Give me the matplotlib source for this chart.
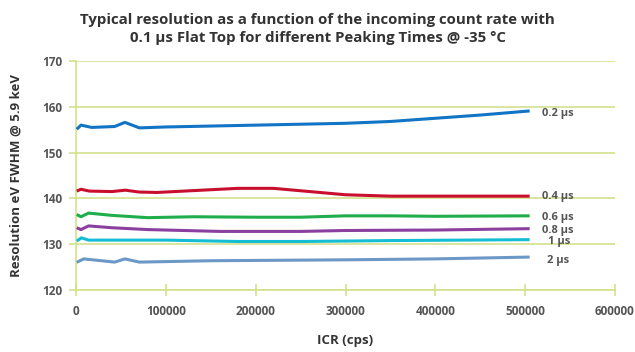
import matplotlib
matplotlib.use("Agg")
import matplotlib.pyplot as plt

plt.rcParams['font.family'] = ['Open Sans', 'DejaVu Sans']

title = "Typical resolution as a function of the incoming count rate with\n0.1 µs Flat Top for different Peaking Times @ -35 °C"
series_names = ["0.2 µs", "0.4 µs", "0.6 µs", "0.8 µs", "1 µs", "2 µs"]

x_02 = [800, 5500, 17500, 43000, 54500, 70500, 100000, 200000, 300000, 350000, 400000, 450000, 505000]
y_02 = [155.1, 156.0, 155.5, 155.7, 156.6, 155.4, 155.6, 156.0, 156.4, 156.8, 157.5, 158.2, 159.1]

x_04 = [800, 5500, 15000, 40000, 55000, 70000, 90000, 130000, 180000, 220000, 260000, 300000, 350000, 400000, 505000]
y_04 = [141.6, 142.0, 141.6, 141.5, 141.8, 141.4, 141.3, 141.7, 142.2, 142.2, 141.5, 140.8, 140.5, 140.5, 140.5]

x_06 = [800, 5500, 14000, 40000, 80000, 130000, 200000, 250000, 300000, 350000, 400000, 505000]
y_06 = [136.5, 136.0, 136.8, 136.3, 135.8, 136.0, 135.9, 135.9, 136.2, 136.2, 136.1, 136.2]

x_08 = [800, 5500, 14000, 40000, 80000, 160000, 250000, 300000, 400000, 505000]
y_08 = [133.6, 133.2, 134.0, 133.6, 133.2, 132.8, 132.8, 133.0, 133.1, 133.4]

x_1 = [800, 6000, 14000, 100000, 180000, 250000, 350000, 505000]
y_1 = [130.7, 131.4, 130.9, 130.9, 130.6, 130.6, 130.8, 131.0]

x_2 = [800, 8500, 43000, 54500, 70500, 150000, 300000, 400000, 505000]
y_2 = [126.05, 126.8, 126.1, 126.8, 126.1, 126.4, 126.6, 126.8, 127.2]

xs = [x_02, x_04, x_06, x_08, x_1, x_2]
ys = [y_02, y_04, y_06, y_08, y_1, y_2]
colors = ["#1274c4", "#c8102e", "#1fae4b", "#8b3f9e", "#14bcd4", "#6b98c6"]
label_y = [158.6, 140.4, 135.9, 133.0, 130.6, 126.4]
label_x = [519000, 519000, 519000, 519000, 525000, 524000]

x_ticks = [0, 100000, 200000, 300000, 400000, 500000, 600000]
y_ticks = [120, 130, 140, 150, 160, 170]

grid_c = "#d3e08c"
text_c = "#555555"

fig = plt.figure(figsize=(6.35, 3.52), dpi=100)
ax = fig.add_axes([0.1197, 0.176, 0.8488, 0.6507])

for x, y, c in zip(xs, ys, colors):
    ax.plot(x, y, color=c, lw=2.2, solid_capstyle='butt', zorder=3)
for n, lx, ly in zip(series_names, label_x, label_y):
    ax.text(lx, ly, n, color=text_c, fontsize=8, fontweight='bold', va='center', ha='left', zorder=4)

ax.set_xlim(0, 600000)
ax.set_ylim(120, 170)
ax.set_xticks(x_ticks)
ax.set_yticks(y_ticks)
ax.set_xticklabels([str(t) for t in x_ticks])
ax.yaxis.grid(True, color=grid_c, lw=1.2, zorder=1)
ax.set_axisbelow(True)
for s in ['top', 'right']:
    ax.spines[s].set_visible(False)
for s in ['left', 'bottom']:
    ax.spines[s].set_color(grid_c)
    ax.spines[s].set_linewidth(1.2)
ax.tick_params(axis='x', direction='inout', length=8, color=grid_c, width=1.2, labelsize=8.5, labelcolor=text_c, pad=7)
ax.tick_params(axis='y', direction='out', length=5, color=grid_c, width=1.2, labelsize=8.5, labelcolor=text_c, pad=5)
for lab in ax.get_xticklabels() + ax.get_yticklabels():
    lab.set_fontweight('bold')

ax.set_xlabel("ICR (cps)", fontsize=9.5, fontweight='bold', color="#333333", labelpad=11)
ax.set_ylabel("Resolution eV FWHM @ 5.9 keV", fontsize=9.5, fontweight='bold', color="#333333", labelpad=14)
fig.text(0.5, 0.918, title, ha='center', va='center', fontsize=10.8, fontweight='bold', color="#333333", linespacing=1.3)

fig.savefig("out.png", dpi=100)
